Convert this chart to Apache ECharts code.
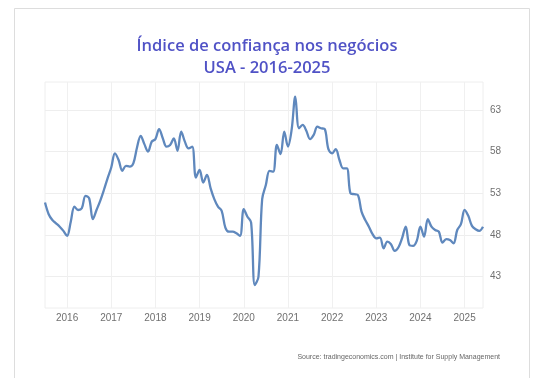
<!DOCTYPE html>
<html>
<head>
<meta charset="utf-8">
<script src="https://cdn.jsdelivr.net/npm/echarts@6/dist/echarts.min.js"></script>
<style>
html,body{margin:0;padding:0;background:#fff;}
#chart{width:540px;height:378px;}
</style>
</head>
<body>
<div id="chart"></div>
<script>
// ---- data (monthly, Jul 2015 .. Jun 2025) ----
var titleText = 'Índice de confiança nos negócios\nUSA - 2016-2025';
var sourceText = 'Source: tradingeconomics.com | Institute for Supply Management';
var startYear = 2015;
var startMonth = 7;
var v2015 = [51.9, 50.5, 49.8, 49.4, 49.0, 48.5];
var v2016 = [47.9, 49.6, 51.4, 51.0, 51.2, 52.7, 52.4, 49.9, 51.0, 52.1, 53.4, 54.8];
var v2017 = [56.1, 57.8, 57.0, 55.7, 56.3, 56.2, 56.6, 58.5, 59.9, 58.9, 58.0, 59.2];
var v2018 = [59.5, 60.7, 59.6, 58.6, 58.8, 59.6, 58.1, 60.4, 59.2, 58.4, 58.6, 54.9];
var v2019 = [55.8, 54.3, 55.2, 53.6, 52.3, 51.4, 50.9, 48.9, 48.4, 48.4, 48.2, 47.9];
var v2020 = [51.1, 50.2, 49.5, 42.0, 43.0, 52.3, 54.0, 55.7, 55.6, 58.8, 57.7, 60.4];
var v2021 = [58.6, 60.6, 64.6, 60.8, 61.2, 60.5, 59.5, 60.0, 61.0, 60.8, 60.7, 58.3];
var v2022 = [57.8, 58.3, 57.0, 56.0, 56.0, 53.0, 52.9, 52.8, 50.8, 49.8, 49.0, 48.1];
var v2023 = [47.6, 47.7, 46.4, 47.2, 46.9, 46.1, 46.5, 47.6, 49.0, 46.8, 46.7, 47.3];
var v2024 = [49.0, 47.8, 49.9, 49.0, 48.6, 48.4, 47.1, 47.5, 47.4, 47.0, 48.6, 49.3];
var v2025 = [51.0, 50.3, 49.1, 48.7, 48.5, 49.0];
var yTicks = [43, 48, 53, 58, 63];
var yMin = 39.25, yMax = 66.35;

var values = [].concat(v2015, v2016, v2017, v2018, v2019, v2020, v2021, v2022, v2023, v2024, v2025);
var months = [];
for (var i = 0; i < values.length; i++) {
  var m = startMonth - 1 + i;
  var y = startYear + Math.floor(m / 12);
  var mm = (m % 12) + 1;
  months.push(y + '-' + (mm < 10 ? '0' + mm : mm));
}
function isJan(idx) { return months[idx] && months[idx].slice(5) === '01'; }

var chart = echarts.init(document.getElementById('chart'), null, {renderer: 'canvas'});
chart.setOption({
  animation: false,
  backgroundColor: '#fff',
  title: {
    text: titleText,
    left: 262, top: 30, textAlign: 'center',
    textStyle: {fontFamily: 'Open Sans', fontSize: 16.5, fontWeight: 600, color: '#5052c6', lineHeight: 22}
  },
  grid: {left: 45, right: 57, top: 82, bottom: 70, show: true, borderColor: '#eeeeee', borderWidth: 1},
  xAxis: {
    type: 'category', data: months, boundaryGap: false,
    axisLine: {show: false}, axisTick: {show: false},
    axisLabel: {
      interval: function (idx) { return isJan(idx); },
      formatter: function (v) { return v.slice(0, 4); },
      color: '#707070', fontFamily: 'Liberation Sans', fontSize: 10, margin: 5
    },
    splitLine: {show: true, interval: function (idx) { return isJan(idx); }, lineStyle: {color: '#f0f0f0', width: 1}}
  },
  yAxis: {
    type: 'value', position: 'right', min: yMin, max: yMax, scale: true,
    axisLine: {show: false},
    axisTick: {show: false, customValues: yTicks},
    axisLabel: {customValues: yTicks, color: '#707070', fontFamily: 'Liberation Sans', fontSize: 10, margin: 7},
    splitLine: {show: true, customValues: yTicks, lineStyle: {color: '#eeeeee', width: 1}}
  },
  series: [{
    type: 'line', data: values, smooth: 0.35, symbol: 'none',
    lineStyle: {color: '#5f88bd', width: 2.3}
  }],
  graphic: [
    {type: 'polyline', shape: {points: [[14.5, 378], [14.5, 8.5], [529.5, 8.5], [529.5, 378]]},
     style: {stroke: '#dddddd', fill: null, lineWidth: 1}, silent: true},
    {type: 'text', right: 40, top: 354,
     style: {text: sourceText, fontFamily: 'Liberation Sans', fontSize: 7, fill: '#666'}}
  ]
});
</script>
</body>
</html>
